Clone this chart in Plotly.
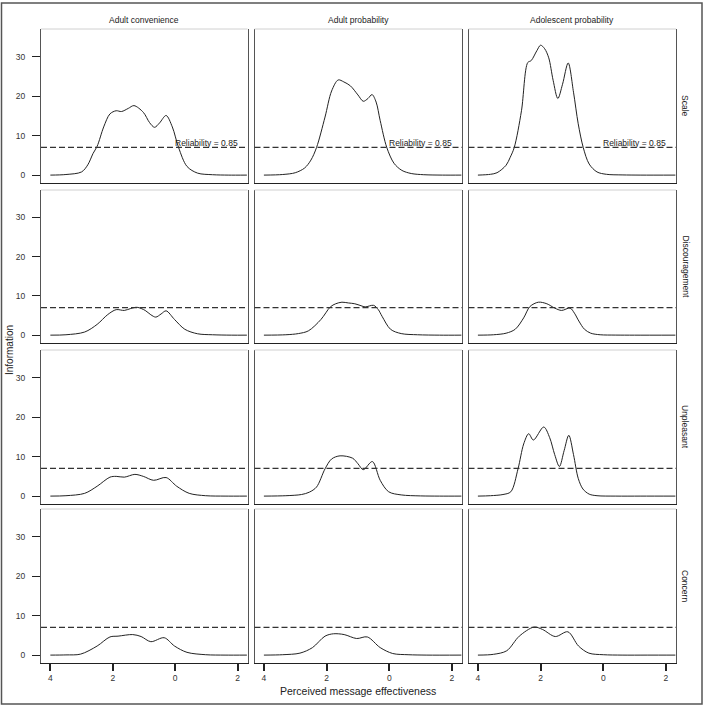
import plotly.graph_objects as go

W = H = 706

col_titles = ["Adult convenience", "Adult probability", "Adolescent probability"]
row_titles = ["Scale", "Discouragement", "Unpleasant", "Concern"]

x_tickvals = [-4, -2, 0, 2]
x_ticktext = ["4", "2", "0", "2"]
y_tickvals = [0, 10, 20, 30]
x_range = [-4.3, 2.32]
y_range = [-2, 37]

RELIABILITY_INFO = 7
reliability_label = "Reliability = 0.85"

# ---- Scale
scale_conv_x = [-4, -3.5, -3.0, -2.8, -2.63, -2.5, -2.29, -2.09, -1.89, -1.72, -1.5, -1.32, -1.02, -0.82, -0.66, -0.5, -0.29, -0.09, 0.11, 0.38, 0.72, 1.2, 1.7, 2.3]
scale_conv_y = [0, 0.15, 0.8, 2.6, 5.5, 7.3, 12.2, 15.5, 16.3, 16.1, 16.9, 17.6, 15.9, 13.3, 12.1, 13.2, 15.1, 12.2, 7, 2.2, 0.5, 0.1, 0, 0]
scale_prob_x = [-4, -3.4, -3.0, -2.7, -2.5, -2.32, -2.05, -1.84, -1.63, -1.45, -1.24, -1.0, -0.83, -0.68, -0.55, -0.42, -0.29, -0.08, 0.15, 0.4, 0.7, 1.1, 1.7, 2.3]
scale_prob_y = [0, 0.15, 0.6, 1.8, 3.8, 7, 14.7, 21.3, 24.1, 23.6, 22.6, 20.3, 18.7, 19.4, 20.4, 18.5, 13.8, 7, 3, 1.2, 0.4, 0.1, 0, 0]
scale_adol_x = [-4, -3.6, -3.39, -3.1, -2.97, -2.84, -2.61, -2.41, -2.3, -2.12, -2.0, -1.87, -1.74, -1.6, -1.45, -1.3, -1.12, -0.95, -0.8, -0.64, -0.45, -0.2, 0.1, 0.6, 1.2, 2.3]
scale_adol_y = [0, 0.2, 0.6, 2.5, 4.5, 7, 16.3, 28.5, 29.0, 31.5, 32.9, 32.0, 29.7, 24.0, 19.4, 23, 28.4, 21, 13, 7, 2.8, 0.8, 0.2, 0.05, 0, 0]

# ---- Discouragement
disc_conv_x = [-4, -3.5, -2.9, -2.5, -2.16, -1.89, -1.63, -1.42, -1.22, -0.96, -0.78, -0.62, -0.45, -0.29, -0.02, 0.31, 0.72, 1.2, 1.8, 2.3]
disc_conv_y = [0, 0.1, 0.8, 2.75, 5.25, 6.5, 6.3, 6.8, 7.1, 6.3, 5.2, 4.6, 5.4, 6.2, 4.0, 1.5, 0.35, 0.1, 0, 0]
disc_prob_x = [-4, -3.3, -2.9, -2.58, -2.18, -1.88, -1.71, -1.51, -1.3, -1.1, -0.9, -0.77, -0.5, -0.35, -0.23, 0.04, 0.38, 0.9, 1.6, 2.3]
disc_prob_y = [0, 0.1, 0.4, 1.1, 4.0, 7.2, 8.0, 8.4, 8.2, 8.0, 7.5, 7.2, 7.6, 6.5, 4.8, 1.5, 0.4, 0.1, 0, 0]
disc_adol_x = [-4, -3.5, -3.1, -2.81, -2.54, -2.34, -2.07, -1.8, -1.55, -1.33, -1.06, -0.92, -0.78, -0.6, -0.4, -0.1, 0.4, 1.0, 2.3]
disc_adol_y = [0, 0.1, 0.5, 1.5, 4.4, 7.3, 8.4, 8.0, 6.9, 6.3, 6.9, 5.6, 3.6, 1.5, 0.5, 0.1, 0.02, 0, 0]

# ---- Unpleasant
unpl_conv_x = [-4, -3.5, -2.9, -2.5, -2.09, -1.89, -1.63, -1.29, -1.02, -0.69, -0.29, 0.05, 0.45, 0.98, 1.6, 2.3]
unpl_conv_y = [0, 0.1, 0.7, 2.5, 4.8, 5.0, 4.8, 5.5, 5.0, 4.0, 4.7, 2.5, 0.7, 0.1, 0, 0]
unpl_prob_x = [-4, -3.3, -2.8, -2.55, -2.32, -2.05, -1.84, -1.57, -1.17, -1.0, -0.83, -0.54, -0.29, -0.02, 0.38, 1.0, 1.6, 2.3]
unpl_prob_y = [0, 0.1, 0.4, 1.0, 2.3, 6.9, 9.4, 10.2, 9.6, 8.2, 6.7, 8.75, 4.0, 1.1, 0.3, 0.05, 0, 0]
unpl_adol_x = [-4, -3.6, -3.2, -2.95, -2.72, -2.54, -2.38, -2.23, -1.9, -1.71, -1.55, -1.4, -1.25, -1.1, -0.95, -0.8, -0.65, -0.45, -0.2, 0.4, 1.2, 2.3]
unpl_adol_y = [0, 0.1, 0.4, 1.1, 6.9, 13.2, 15.8, 14.2, 17.5, 14.8, 10.5, 7.5, 11.5, 15.4, 10.5, 4.5, 1.8, 0.5, 0.1, 0, 0, 0]

# ---- Concern
conc_conv_x = [-4, -3.5, -3.03, -2.5, -2.09, -1.83, -1.36, -1.09, -0.78, -0.35, -0.02, 0.38, 0.98, 1.6, 2.3]
conc_conv_y = [0, 0.05, 0.25, 2.3, 4.6, 4.8, 5.2, 4.7, 3.4, 4.4, 2.3, 0.7, 0.1, 0, 0]
conc_prob_x = [-4, -3.4, -2.85, -2.45, -2.05, -1.78, -1.44, -1.04, -0.7, -0.29, 0.11, 0.6, 1.2, 2.3]
conc_prob_y = [0, 0.1, 0.5, 1.9, 4.8, 5.4, 5.2, 4.2, 4.6, 1.9, 0.4, 0.1, 0, 0]
conc_adol_x = [-4, -3.5, -3.08, -2.68, -2.21, -1.94, -1.53, -1.13, -0.79, -0.46, 0.0, 0.6, 1.4, 2.3]
conc_adol_y = [0, 0.2, 1.1, 4.8, 7.1, 6.5, 4.7, 5.9, 2.3, 0.5, 0.1, 0, 0, 0]

panels = [
    [(scale_conv_x, scale_conv_y), (scale_prob_x, scale_prob_y), (scale_adol_x, scale_adol_y)],
    [(disc_conv_x, disc_conv_y), (disc_prob_x, disc_prob_y), (disc_adol_x, disc_adol_y)],
    [(unpl_conv_x, unpl_conv_y), (unpl_prob_x, unpl_prob_y), (unpl_adol_x, unpl_adol_y)],
    [(conc_conv_x, conc_conv_y), (conc_prob_x, conc_prob_y), (conc_adol_x, conc_adol_y)],
]

# pixel layout
col_px = [(41, 247.5), (254.5, 462), (468.5, 676)]
row_px = [(29, 183), (190, 343), (350, 504), (509, 663)]

def px_x(p):
    return p / W

def px_y(p):
    return 1 - p / H

FONT = "Liberation Sans, Arial, sans-serif"
fig = go.Figure()
layout = dict(width=W, height=H, margin=dict(l=0, r=0, t=0, b=0),
              paper_bgcolor="white", plot_bgcolor="white", showlegend=False,
              font=dict(family=FONT, color="#222"))
shapes = []
annotations = []

for r in range(4):
    for c in range(3):
        i = r * 3 + c + 1
        xs = "" if i == 1 else str(i)
        xd, yd = panels[r][c]
        fig.add_trace(go.Scatter(x=xd, y=yd, mode="lines",
                                 line=dict(color="#222", width=1, shape="spline", smoothing=0.9),
                                 xaxis="x" + xs, yaxis="y" + xs, hoverinfo="skip"))
        bottom = (r == 3)
        left = (c == 0)
        layout["xaxis" + xs] = dict(
            domain=[px_x(col_px[c][0]), px_x(col_px[c][1])],
            anchor="y" + xs, range=x_range, showgrid=False, zeroline=False,
            showline=True, linecolor="#222", linewidth=1.3, mirror=False,
            tickvals=x_tickvals, ticktext=x_ticktext,
            ticks="outside" if bottom else "", ticklen=7, tickwidth=1.6, tickcolor="#222",
            showticklabels=bottom, tickfont=dict(size=8.5, color="#333", family=FONT),
        )
        layout["yaxis" + xs] = dict(
            domain=[px_y(row_px[r][1]), px_y(row_px[r][0])],
            anchor="x" + xs, range=y_range, showgrid=False, zeroline=False,
            showline=True, linecolor="#555", linewidth=1, mirror=True,
            tickvals=y_tickvals, ticks="outside" if left else "", ticklen=8,
            tickwidth=1.3, tickcolor="#222", showticklabels=left,
            ticklabelstandoff=5, tickfont=dict(size=8.5, color="#333", family=FONT),
        )
        # light top border
        shapes.append(dict(type="line", xref="x%s domain" % xs, yref="y%s domain" % xs,
                           x0=0, x1=1, y0=1, y1=1, line=dict(color="#d0d0d0", width=1)))
        # reliability dashed line
        shapes.append(dict(type="line", xref="x%s domain" % xs, yref="y" + xs,
                           x0=0, x1=1, y0=RELIABILITY_INFO, y1=RELIABILITY_INFO,
                           line=dict(color="#333", width=1.3, dash="6px,3px")))
        if r == 0:
            annotations.append(dict(text=reliability_label, xref="x" + xs, yref="y" + xs,
                                    x=2.08, y=RELIABILITY_INFO, xanchor="right", yanchor="bottom",
                                    yshift=-3, showarrow=False,
                                    font=dict(size=8.5, color="#222", family=FONT)))

for c, t in enumerate(col_titles):
    annotations.append(dict(text=t, xref="paper", yref="paper",
                            x=px_x((col_px[c][0] + col_px[c][1]) / 2), y=px_y(19.5),
                            xanchor="center", yanchor="middle", showarrow=False,
                            font=dict(size=8.5, color="#222", family=FONT)))
for r, t in enumerate(row_titles):
    annotations.append(dict(text=t, xref="paper", yref="paper",
                            x=px_x(685), y=px_y((row_px[r][0] + row_px[r][1]) / 2),
                            xanchor="center", yanchor="middle", textangle=90, showarrow=False,
                            font=dict(size=8.5, color="#222", family=FONT)))

annotations.append(dict(text="Information", xref="paper", yref="paper",
                        x=px_x(9), y=px_y(350), xanchor="center", yanchor="middle",
                        textangle=-90, showarrow=False,
                        font=dict(size=10, color="#222", family=FONT)))
annotations.append(dict(text="Perceived message effectiveness", xref="paper", yref="paper",
                        x=px_x(358), y=px_y(691), xanchor="center", yanchor="middle",
                        showarrow=False, font=dict(size=10.5, color="#222", family=FONT)))

# outer frame
shapes.append(dict(type="rect", xref="paper", yref="paper",
                   x0=px_x(1.5), x1=px_x(702), y0=px_y(704), y1=px_y(3),
                   line=dict(color="#555", width=1.5)))

layout["shapes"] = shapes
layout["annotations"] = annotations
fig.update_layout(**layout)
fig.write_html("out.html")
